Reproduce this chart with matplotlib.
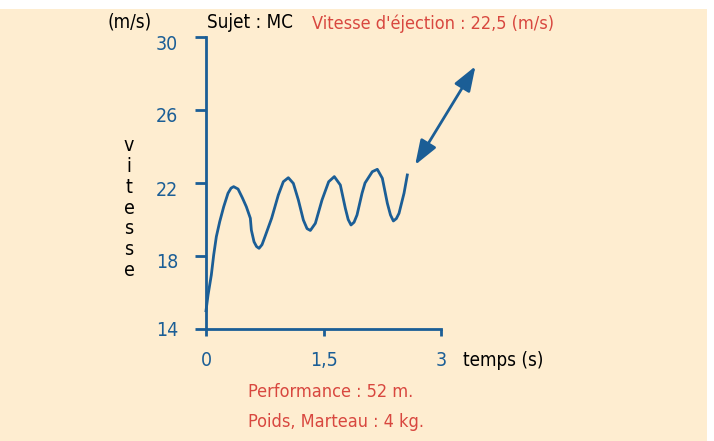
import numpy as np
import matplotlib.pyplot as plt
from matplotlib.patches import Rectangle
from matplotlib.transforms import ScaledTranslation

# courbe de vitesse (temps en s, vitesse en m/s)
temps = [0.000, 0.026, 0.068, 0.098, 0.132, 0.175, 0.226, 0.281, 0.320, 0.353,
         0.409, 0.464, 0.515, 0.566, 0.579, 0.613, 0.645, 0.677, 0.715, 0.753,
         0.838, 0.923, 0.987, 1.051, 1.115, 1.179, 1.243, 1.290, 1.332, 1.396,
         1.481, 1.566, 1.638, 1.715, 1.779, 1.815, 1.851, 1.890, 1.928, 1.992,
         2.030, 2.123, 2.187, 2.251, 2.315, 2.355, 2.392, 2.430, 2.464, 2.528,
         2.570]
vitesse = [15.00, 15.86, 16.96, 18.05, 19.06, 19.88, 20.70, 21.44, 21.72, 21.80,
           21.67, 21.19, 20.70, 20.07, 19.42, 18.78, 18.52, 18.42, 18.62, 19.06,
           20.07, 21.34, 22.07, 22.29, 21.98, 21.07, 19.97, 19.50, 19.40, 19.79,
           21.07, 22.07, 22.35, 21.89, 20.61, 20.00, 19.70, 19.85, 20.25, 21.44,
           22.00, 22.62, 22.75, 22.26, 20.89, 20.25, 19.92, 20.05, 20.34, 21.44,
           22.44]

xticks = [0, 1.5, 3]
xlabels = ["0", "1,5", "3"]
yticks = [14, 18, 22, 26, 30]

fleche_debut = (2.67, 22.99)
fleche_fin = (3.44, 28.4)

bleu = "#1B5E96"
rouge = "#D8473F"
fond = "#FEEDD0"
W, H = 714, 441

plt.rcParams['font.family'] = ['DejaVu Sans']
plt.rcParams['font.stretch'] = 'condensed'

fig = plt.figure(figsize=(W / 100, H / 100), dpi=100)
fig.patch.set_facecolor("white")
fig.patches.append(Rectangle((0, 0), 707 / W, (H - 9) / H, transform=fig.transFigure,
                             facecolor=fond, edgecolor="none", zorder=-5))

def px(x, y):
    return x / W, 1 - y / H

ax = fig.add_axes([206 / W, 1 - 329 / H, 235 / W, 292 / H])
ax.set_facecolor("none")
ax.plot(temps, vitesse, color=bleu, lw=2, clip_on=False, solid_joinstyle="round")
ax.set_xlim(0, 3)
ax.set_ylim(14, 30)
for s in ["top", "right"]:
    ax.spines[s].set_visible(False)
for s in ["left", "bottom"]:
    ax.spines[s].set_color(bleu)
    ax.spines[s].set_linewidth(2)
ax.set_xticks(xticks)
ax.set_xticklabels(xlabels)
ax.set_yticks(yticks)
ax.tick_params(axis="x", colors=bleu, length=5, width=2, pad=11, labelsize=14)
ax.tick_params(axis="y", colors=bleu, length=8, width=2, pad=12, labelsize=14)
# les graduations de l'axe vertical sont un peu sous leur trait (sauf 14)
for lab in ax.get_yticklabels()[1:]:
    lab.set_transform(lab.get_transform() + ScaledTranslation(0, -5 / 100, fig.dpi_scale_trans))

ax.annotate("", xy=fleche_fin, xytext=fleche_debut,
            arrowprops=dict(arrowstyle="<|-|>,head_length=0.5,head_width=0.18",
                            color=bleu, lw=2, mutation_scale=30,
                            shrinkA=0, shrinkB=0), annotation_clip=False)

fig.text(*px(108, 22), "(m/s)", fontsize=13.5, va="center", ha="left")
fig.text(*px(207, 22), "Sujet : MC", fontsize=13.5, va="center", ha="left")
fig.text(*px(312, 24), "Vitesse d'éjection : 22,5 (m/s)", fontsize=13, va="center",
         ha="left", color=rouge)
fig.text(*px(129, 208), "v\ni\nt\ne\ns\ns\ne", fontsize=14, va="center", ha="center",
         linespacing=1.12)
fig.text(*px(463, 360), "temps (s)", fontsize=13.5, va="center", ha="left")
fig.text(*px(248, 392), "Performance : 52 m.", fontsize=13, va="center", ha="left",
         color=rouge)
fig.text(*px(248, 422), "Poids, Marteau : 4 kg.", fontsize=13, va="center", ha="left",
         color=rouge)

fig.savefig("out.png", dpi=100)
